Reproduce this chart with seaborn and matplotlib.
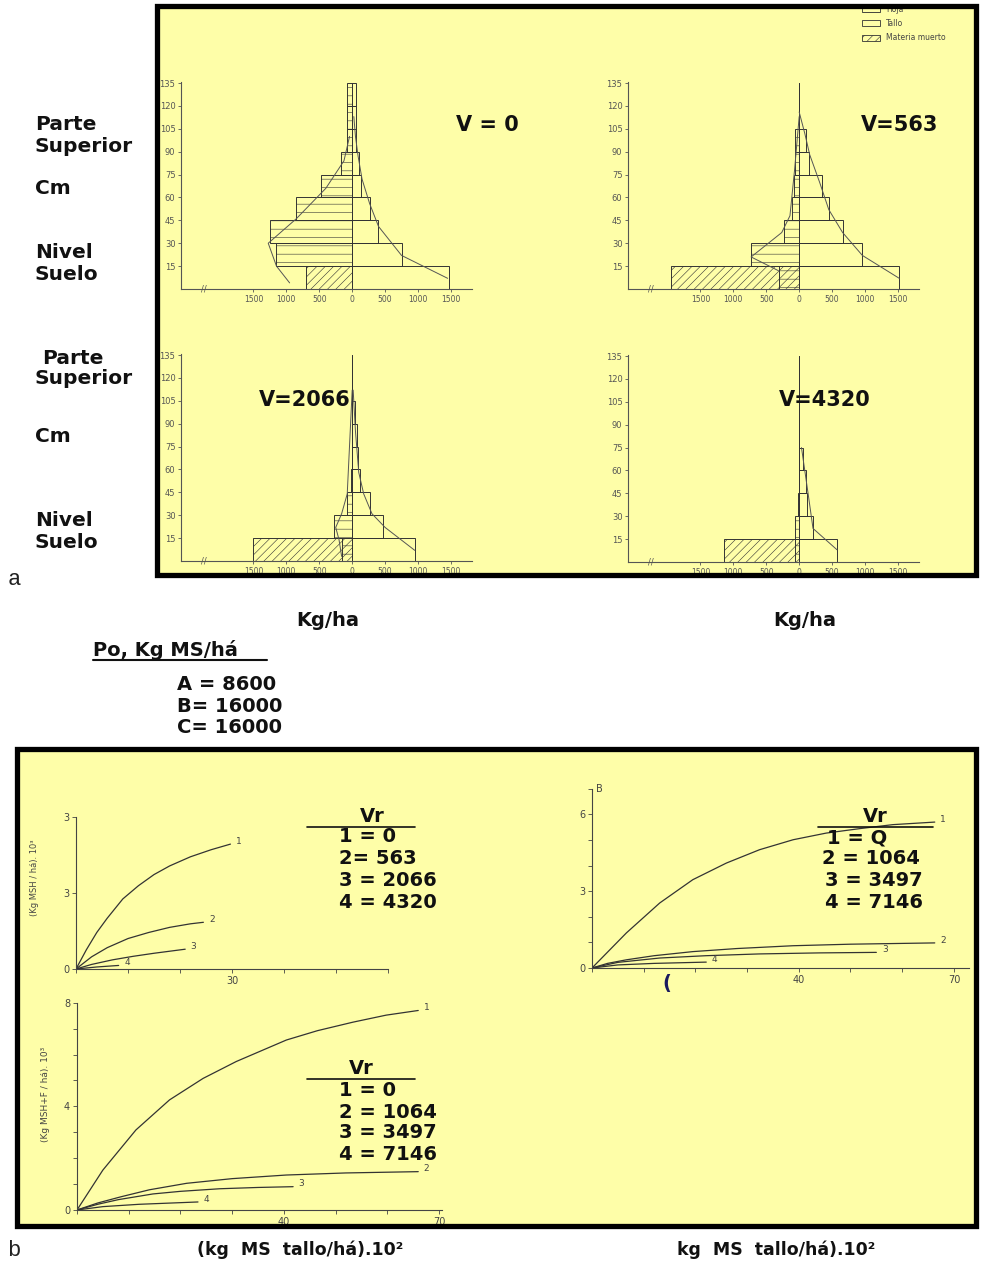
import numpy as np
import pandas as pd
import matplotlib
matplotlib.use('Agg')
import matplotlib.pyplot as plt
from matplotlib.patches import Rectangle
from matplotlib.lines import Line2D
import seaborn as sns

sns.set_theme(style='ticks')
plt.rcParams['font.family'] = ['DejaVu Sans']
plt.rcParams['hatch.linewidth'] = 0.4

W, H = 981, 1261
YELLOW = '#FEFEA8'
EDGE = '#333333'
AXC = '#555555'

# ---------------- a: perfiles verticales (capas de 15 cm) ----------------
capas = [7.5, 22.5, 37.5, 52.5, 67.5, 82.5, 97.5, 112.5, 127.5]
yticks_cm = [15, 30, 45, 60, 75, 90, 105, 120, 135]
xticks_kg = [-1500, -1000, -500, 0, 500, 1000, 1500]

# V = 0
hoja_0 = [0, 1150, 1250, 850, 470, 175, 75, 75, 75]
muerto_0 = [700, 0, 0, 0, 0, 0, 0, 0, 0]
tallo_0 = [1470, 750, 390, 270, 135, 100, 55, 55, 55]
izq_0_x = [-40, -125, -400, -850, -1275, -1150, -950]
izq_0_y = [100, 84, 66, 46, 30, 15, 4]
der_0_x = [1450, 750, 400, 265, 150, 90, 50, 25]
der_0_y = [7, 22, 41, 56, 72, 87, 100, 113]

# V = 563
hoja_563 = [300, 730, 230, 115, 80, 65, 65, 0, 0]
muerto_563 = [1950, 0, 0, 0, 0, 0, 0, 0, 0]
tallo_563 = [1520, 960, 660, 450, 350, 145, 100, 0, 0]
izq_563_x = [0, -70, -140, -265, -730, -315]
izq_563_y = [113, 78, 48, 37, 21, 12]
der_563_x = [1520, 960, 660, 450, 310, 160, 85, 0]
der_563_y = [7, 22, 37, 52, 70, 88, 102, 116]

# V = 2066
hoja_2066 = [160, 275, 75, 25, 0, 0, 0, 0, 0]
muerto_2066 = [1510, 0, 0, 0, 0, 0, 0, 0, 0]
tallo_2066 = [950, 475, 275, 125, 90, 75, 50, 0, 0]
izq_2066_x = [0, -75, -160, -250, -200, -160]
izq_2066_y = [112, 44, 31, 22, 14, 3]
der_2066_x = [950, 500, 300, 175, 100, 50, 15]
der_2066_y = [7, 22, 31, 44, 58, 85, 112]

# V = 4320
hoja_4320 = [65, 65, 15, 0, 0, 0, 0, 0, 0]
muerto_4320 = [1140, 0, 0, 0, 0, 0, 0, 0, 0]
tallo_4320 = [575, 210, 120, 100, 60, 0, 0, 0, 0]
der_4320_x = [575, 210, 135, 85, 35]
der_4320_y = [8, 22, 45, 60, 75]

# ---------------- b: curvas de respuesta ----------------
# panel superior izquierdo (Vr = 0, 563, 2066, 4320)
b1_c1_x = [0, 2, 4, 6, 9, 12, 15, 18, 22, 26, 29.7]
b1_c1_y = [0, 0.38, 0.72, 1.0, 1.38, 1.64, 1.86, 2.03, 2.21, 2.35, 2.46]
b1_c2_x = [0, 3, 6, 10, 14, 18, 22, 24.5]
b1_c2_y = [0, 0.24, 0.42, 0.60, 0.72, 0.82, 0.89, 0.92]
b1_c3_x = [0, 3, 7, 11, 15, 18, 21]
b1_c3_y = [0, 0.09, 0.18, 0.25, 0.31, 0.35, 0.39]
b1_c4_x = [0, 4, 8.2]
b1_c4_y = [0, 0.04, 0.07]

# panel superior derecho (Vr = 0, 1064, 3497, 7146)
b2_c1_x = [0, 6.65, 13.1, 19.5, 26, 32.4, 38.9, 45.3, 52, 58.2, 66.3]
b2_c1_y = [0, 1.37, 2.54, 3.45, 4.10, 4.62, 5.01, 5.27, 5.45, 5.60, 5.70]
b2_c2_x = [0, 3, 6.65, 12, 19.5, 28, 38.9, 50, 66.3]
b2_c2_y = [0, 0.18, 0.32, 0.48, 0.64, 0.76, 0.87, 0.93, 0.98]
b2_c3_x = [0, 5, 13.1, 22, 32.4, 44, 55]
b2_c3_y = [0, 0.22, 0.39, 0.48, 0.55, 0.59, 0.61]
b2_c4_x = [0, 5, 12, 22.1]
b2_c4_y = [0, 0.12, 0.18, 0.23]

# panel inferior izquierdo (Vr = 0, 1064, 3497, 7146)
b3_c1_x = [0, 5, 11.4, 17.9, 24.4, 30.8, 40.5, 46.5, 53.4, 59.8, 66]
b3_c1_y = [0, 1.54, 3.09, 4.25, 5.08, 5.73, 6.56, 6.92, 7.25, 7.52, 7.70]
b3_c2_x = [0, 4, 8.5, 14, 21.2, 30, 40.5, 52, 66]
b3_c2_y = [0, 0.27, 0.51, 0.78, 1.03, 1.21, 1.35, 1.43, 1.48]
b3_c3_x = [0, 4, 8, 14.7, 20, 27.6, 35, 41.8]
b3_c3_y = [0, 0.22, 0.40, 0.62, 0.72, 0.82, 0.87, 0.90]
b3_c4_x = [0, 5, 12, 23.4]
b3_c4_y = [0, 0.13, 0.22, 0.31]


def fx(x):
    return x / W


def fy(y):
    return 1 - y / H


fig = plt.figure(figsize=(W / 100, H / 100), dpi=100)
fig.patch.set_facecolor('white')


def add_ax(left, top, right, bottom):
    ax = fig.add_axes([fx(left), fy(bottom), (right - left) / W, (bottom - top) / H])
    ax.set_facecolor('none')
    return ax


def caja(x0, y0, x1, y1):
    fig.add_artist(Rectangle((fx(x0 + 3), fy(y1 + 3)), (x1 - x0) / W, (y1 - y0) / H,
                             transform=fig.transFigure, facecolor='#999999', edgecolor='none',
                             alpha=0.6, zorder=-12))
    fig.add_artist(Rectangle((fx(x0), fy(y1)), (x1 - x0) / W, (y1 - y0) / H,
                             transform=fig.transFigure, facecolor=YELLOW, edgecolor='none',
                             zorder=-10))
    fig.add_artist(Rectangle((fx(x0), fy(y1)), (x1 - x0) / W, (y1 - y0) / H,
                             transform=fig.transFigure, facecolor='none', edgecolor='black',
                             linewidth=3.8, zorder=20))


def texto(x, y, s, size=14, ha='left', weight='bold', **kw):
    fig.text(fx(x), fy(y), s, fontsize=size, ha=ha, va='center', fontweight=weight,
             color=kw.pop('color', '#111111'), **kw)


def linea(x0, x1, y, lw=1.2):
    fig.add_artist(Line2D([fx(x0), fx(x1)], [fy(y), fy(y)], transform=fig.transFigure,
                          color='#111111', linewidth=lw))


def perfil(ax, hoja, muerto, tallo, izq_x, izq_y, der_x, der_y):
    df = pd.DataFrame({'altura': capas,
                       'hoja': [-v for v in hoja],
                       'muerto': [-v for v in muerto],
                       'tallo': tallo})
    kw = dict(data=df, y='altura', orient='y', native_scale=True, width=1,
              fill=False, color=EDGE, linewidth=0.7, errorbar=None, ax=ax)
    sns.barplot(x='muerto', hatch='////', **kw)
    sns.barplot(x='hoja', hatch='--', **kw)
    sns.barplot(x='tallo', **kw)
    ax.axvline(0, 0, 135 / 136, color=EDGE, lw=0.7)
    if izq_x:
        sns.lineplot(x=izq_x, y=izq_y, sort=False, estimator=None, color='#555555', lw=0.7, ax=ax)
    sns.lineplot(x=der_x, y=der_y, sort=False, estimator=None, color='#555555', lw=0.7, ax=ax)
    ax.set_xlim(-2600, 1820)
    ax.set_ylim(0, 136)
    ax.set_yticks(yticks_cm)
    ax.set_xticks(xticks_kg)
    ax.set_xticklabels([str(abs(v)) for v in xticks_kg])
    ax.set(xlabel='', ylabel='')
    ax.tick_params(axis='y', labelsize=6, length=2.5, width=0.6, colors=AXC, pad=1.5)
    ax.tick_params(axis='x', labelsize=5.5, length=2.5, width=0.6, colors=AXC, pad=2)
    sns.despine(ax=ax)
    for s in ['left', 'bottom']:
        ax.spines[s].set_color(AXC)
        ax.spines[s].set_linewidth(0.8)
    ax.text(-2250, 0, '//', ha='center', va='center', fontsize=6, color=AXC, clip_on=False)


def curvas(ax, series, xlim, ylim, xt, xtl, yt, ytl):
    for i, (cx, cy) in enumerate(series, start=1):
        sns.lineplot(x=cx, y=cy, sort=False, estimator=None, color='#333333', lw=0.9, ax=ax)
        ax.annotate(str(i), (cx[-1], cy[-1]), xytext=(4, 2), textcoords='offset points',
                    fontsize=6.5, color='#444444', va='center', ha='left')
    ax.set_xlim(*xlim)
    ax.set_ylim(*ylim)
    ax.set_xticks(xt)
    ax.set_xticklabels(xtl)
    ax.set_yticks(yt)
    ax.set_yticklabels(ytl)
    ax.set(xlabel='', ylabel='')
    ax.tick_params(labelsize=7, length=3, width=0.6, colors='#444444', pad=2)
    sns.despine(ax=ax)
    for s in ['left', 'bottom']:
        ax.spines[s].set_color('#444444')
        ax.spines[s].set_linewidth(0.8)


# ---------------- cajas ----------------
caja(157, 6, 976, 575)
caja(17, 749, 976, 1226)

# ---------------- a ----------------
ax1 = add_ax(181, 81.5, 472, 289)
perfil(ax1, hoja_0, muerto_0, tallo_0, izq_0_x, izq_0_y, der_0_x, der_0_y)
ax2 = add_ax(628, 81.5, 919, 289)
perfil(ax2, hoja_563, muerto_563, tallo_563, izq_563_x, izq_563_y, der_563_x, der_563_y)
ax3 = add_ax(181, 353.5, 472, 561)
perfil(ax3, hoja_2066, muerto_2066, tallo_2066, izq_2066_x, izq_2066_y, der_2066_x, der_2066_y)
ax4 = add_ax(628, 354.5, 919, 562)
perfil(ax4, hoja_4320, muerto_4320, tallo_4320, [], [], der_4320_x, der_4320_y)

texto(487, 125, 'V = 0', 15, ha='center')
texto(900, 125, 'V=563', 15, ha='center')
texto(305, 400, 'V=2066', 15, ha='center')
texto(825, 400, 'V=4320', 15, ha='center')

# leyenda
for yy, lab, hat in [(9, 'Hoja', '--'), (23, 'Tallo', None), (38, 'Materia muerto', '////')]:
    fig.add_artist(Rectangle((fx(862), fy(yy + 3)), 18 / W, 6 / H, transform=fig.transFigure,
                             facecolor='none', edgecolor=EDGE, hatch=hat, linewidth=0.6, zorder=5))
    fig.text(fx(886), fy(yy), lab, fontsize=5.5, color='#444444', va='center', ha='left')

# rotulos laterales
for yy, s in [(125, 'Parte'), (147, 'Superior'), (188, 'Cm'), (253, 'Nivel'), (274, 'Suelo')]:
    texto(35, yy, s, 14.5)
for xx, yy, s in [(42, 358, 'Parte'), (35, 379, 'Superior'), (35, 436, 'Cm'),
                  (35, 521, 'Nivel'), (35, 542, 'Suelo')]:
    texto(xx, yy, s, 14.5)

texto(14, 580, 'a', 16, ha='center', weight='normal', family='Liberation Mono', color='#222222')
texto(328, 620, 'Kg/ha', 14, ha='center')
texto(805, 620, 'Kg/ha', 14, ha='center')
texto(93, 650, 'Po, Kg MS/há', 14)
linea(93, 267, 660, 1.5)
texto(177, 685, 'A = 8600', 14)
texto(177, 706, 'B= 16000', 14)
texto(177, 728, 'C= 16000', 14)

# ---------------- b ----------------
bx1 = add_ax(76, 816.7, 388, 969)
curvas(bx1, [(b1_c1_x, b1_c1_y), (b1_c2_x, b1_c2_y), (b1_c3_x, b1_c3_y), (b1_c4_x, b1_c4_y)],
       (0, 60), (0, 3), list(range(0, 61, 10)), ['', '', '', '30', '', '', ''],
       [0, 1.5, 3], ['0', '3', '3'])
bx1.set_ylabel('(Kg MSH / há). 10³', fontsize=6, color='#444444')
bx1.yaxis.set_label_coords(-0.12, 0.60)

bx2 = add_ax(592, 788.8, 969.4, 968)
curvas(bx2, [(b2_c1_x, b2_c1_y), (b2_c2_x, b2_c2_y), (b2_c3_x, b2_c3_y), (b2_c4_x, b2_c4_y)],
       (0, 73), (0, 7), list(range(0, 71, 10)), ['', '', '', '', '40', '', '', '70'],
       list(range(0, 8)), ['0', '', '', '3', '', '', '6', ''])
bx2.text(0.8, 7.0, 'B', fontsize=7, color='#444444', ha='left', va='center')

bx3 = add_ax(77, 1002.7, 441.5, 1210)
curvas(bx3, [(b3_c1_x, b3_c1_y), (b3_c2_x, b3_c2_y), (b3_c3_x, b3_c3_y), (b3_c4_x, b3_c4_y)],
       (0, 70.5), (0, 8), list(range(0, 71, 10)), ['', '', '', '', '40', '', '', '70'],
       list(range(0, 9)), ['0', '', '', '', '4', '', '', '', '8'])
bx3.set_ylabel('(Kg MSH+F / há). 10³', fontsize=6.5, color='#444444')
bx3.yaxis.set_label_coords(-0.075, 0.56)

# bloques Vr
texto(372, 817, 'Vr', 14, ha='center')
linea(307, 415, 827)
for yy, s in [(837, '1 = 0'), (859, '2= 563'), (881, '3 = 2066'), (903, '4 = 4320')]:
    texto(339, yy, s, 14)

texto(875, 817, 'Vr', 14, ha='center')
linea(818, 933, 827)
for xx, yy, s in [(827, 838, '1 = Q'), (822, 859, '2 = 1064'), (825, 880, '3 = 3497'),
                  (825, 902, '4 = 7146')]:
    texto(xx, yy, s, 14)

texto(361, 1069, 'Vr', 14, ha='center')
linea(307, 415, 1079)
for yy, s in [(1090, '1 = 0'), (1112, '2 = 1064'), (1133, '3 = 3497'), (1155, '4 = 7146')]:
    texto(339, yy, s, 14)

texto(667, 983, '(', 14, ha='center', color='#1a1a5e')

texto(14, 1250, 'b', 16, ha='center', weight='normal', family='Liberation Mono', color='#222222')
texto(300, 1250, '(kg  MS  tallo/há).10²', 12.5, ha='center')
texto(776, 1250, 'kg  MS  tallo/há).10²', 12.5, ha='center')

fig.savefig('out.png', dpi=100)
